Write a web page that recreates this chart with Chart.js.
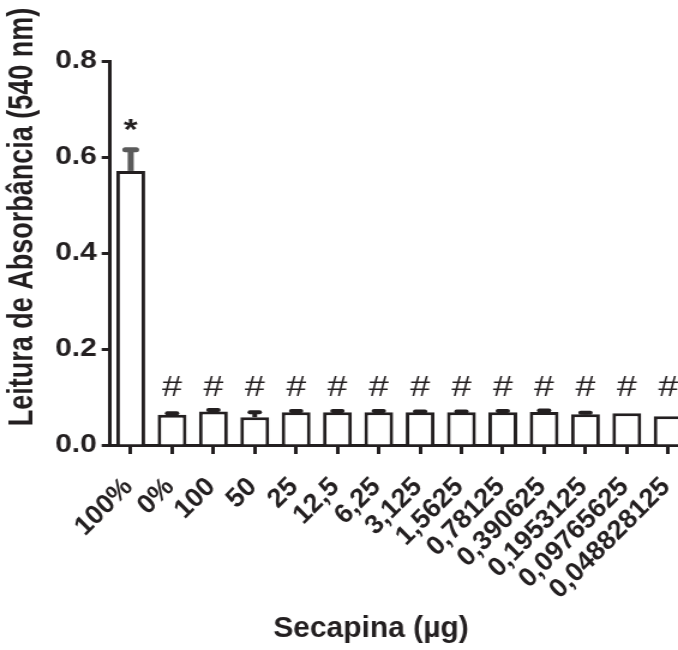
<!DOCTYPE html>
<html>
<head>
<meta charset="utf-8">
<script src="https://cdn.jsdelivr.net/npm/chart.js@4/dist/chart.umd.min.js"></script>
<style>
  html, body { margin: 0; padding: 0; background: #fff; overflow: hidden; }
  /* the figure is drawn narrow and stretched sideways */
  #wrap { position: absolute; left: 0; top: 0; width: 580px; height: 650px;
          transform: scaleX(1.2); transform-origin: 0 0; }
</style>
</head>
<body>
<div id="wrap"><canvas id="chart"></canvas></div>
<script>
const doses = ['100%', '0%', '100', '50', '25', '12,5', '6,25', '3,125', '1,5625',
               '0,78125', '0,390625', '0,1953125', '0,09765625', '0,048828125'];
const means = [0.571, 0.063, 0.070, 0.058, 0.068, 0.068, 0.068, 0.068, 0.068,
               0.068, 0.069, 0.064, 0.066, 0.060];
const sem   = [0.044, 0.003, 0.003, 0.010, 0.003, 0.003, 0.003, 0.002, 0.002,
               0.003, 0.003, 0.003, 0, 0];
const marks = ['*', '#', '#', '#', '#', '#', '#', '#', '#', '#', '#', '#', '#', '#'];
const yTicks = [0, 0.2, 0.4, 0.6, 0.8];
const starLevel = 0.67;
const hashLevel = 0.12;

const SX = 1.2;
const INK = '#231f20';
const FONT = "'Liberation Sans', Arial, sans-serif";

// error bars, significance marks, dose labels and axis titles
const extras = {
    id: 'extras',
    afterDatasetsDraw(chart) {
        const ctx = chart.ctx;
        const x = chart.scales.x, y = chart.scales.y;
        const meta = chart.getDatasetMeta(0);
        ctx.save();
        meta.data.forEach((bar, i) => {
            if (!sem[i]) return;
            const base = y.getPixelForValue(means[i]);
            const top = y.getPixelForValue(means[i] + sem[i]);
            const first = i === 0;
            ctx.strokeStyle = first ? '#5a5a5a' : INK;
            ctx.lineWidth = first ? 5 : 4;
            ctx.lineCap = 'butt';
            ctx.beginPath();
            ctx.moveTo(bar.x, base);
            ctx.lineTo(bar.x, top);
            ctx.stroke();
            ctx.lineCap = 'round';
            ctx.beginPath();
            ctx.moveTo(bar.x - (first ? 4.5 : 4), top);
            ctx.lineTo(bar.x + (first ? 4.5 : 4), top);
            ctx.stroke();
        });

        ctx.fillStyle = INK;
        ctx.textAlign = 'center';
        ctx.textBaseline = 'middle';
        meta.data.forEach((bar, i) => {
            if (marks[i] === '*') {
                ctx.font = 'bold 30px ' + FONT;
                ctx.fillText('*', bar.x, y.getPixelForValue(starLevel) + 7);
            } else {
                ctx.font = '30px ' + FONT;
                ctx.fillText(marks[i], bar.x, y.getPixelForValue(hashLevel));
            }
        });

        ctx.save();
        ctx.translate(19, 217);
        ctx.rotate(-Math.PI / 2);
        ctx.scale(1, 1.12);
        ctx.font = 'bold 27px ' + FONT;
        ctx.fillText('Leitura de Absorbância (540 nm)', 0, 0);
        ctx.restore();

        // undo the sideways stretch so these read at true proportions
        ctx.scale(1 / SX, 1);
        ctx.font = 'bold 30px ' + FONT;
        ctx.fillText('Secapina (µg)', 371, 629);

        const axisY = chart.chartArea.bottom;
        ctx.font = 'bold 27px ' + FONT;
        ctx.textAlign = 'right';
        ctx.textBaseline = 'alphabetic';
        doses.forEach((label, i) => {
            ctx.save();
            ctx.translate(x.getPixelForTick(i) * SX + 3, axisY + 43);
            ctx.rotate(-Math.PI / 4);
            ctx.fillText(label, 0, 0);
            ctx.restore();
        });
        ctx.restore();
    }
};

new Chart(document.getElementById('chart'), {
    type: 'bar',
    data: {
        labels: doses,
        datasets: [{
            data: means,
            backgroundColor: '#ffffff',
            borderColor: INK,
            borderWidth: 3,
            borderSkipped: 'bottom',
            barPercentage: 0.82,
            categoryPercentage: 0.85
        }]
    },
    options: {
        responsive: true,
        maintainAspectRatio: false,
        animation: false,
        layout: { padding: { left: 0, right: 6, top: 61, bottom: 0 } },
        plugins: { legend: { display: false }, tooltip: { enabled: false } },
        scales: {
            x: {
                offset: true,
                grid: { offset: false, drawOnChartArea: false, tickLength: 9, tickWidth: 3, tickColor: INK },
                border: { color: INK, width: 3 },
                ticks: { display: false, autoSkip: false },
                afterFit(scale) { scale.height = 205; }
            },
            y: {
                min: 0, max: 0.8,
                afterBuildTicks(scale) { scale.ticks = yTicks.map(v => ({ value: v })); },
                grid: { drawOnChartArea: false, tickLength: 7, tickWidth: 3, tickColor: INK },
                border: { color: INK, width: 3 },
                ticks: {
                    color: INK, padding: 4,
                    font: { family: FONT, size: 25, weight: 'bold' },
                    callback: v => v.toFixed(1)
                },
                afterFit(scale) { scale.width = 91.7; }
            }
        }
    },
    plugins: [extras]
});
</script>
</body>
</html>
